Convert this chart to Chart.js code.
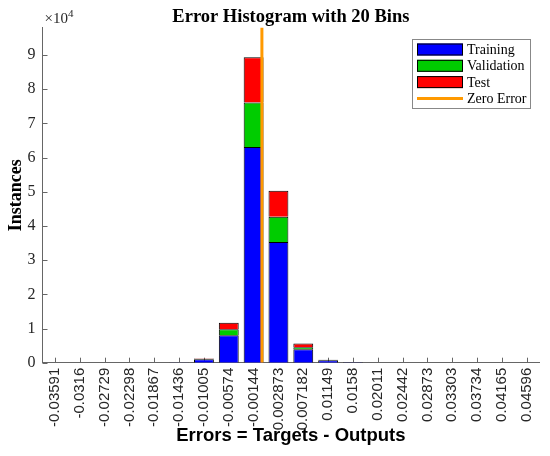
<!DOCTYPE html>
<html>
<head>
<meta charset="utf-8">
<script src="https://cdn.jsdelivr.net/npm/chart.js@4.4.1/dist/chart.umd.min.js"></script>
<style>
  body { margin: 0; background: #fff; }
</style>
</head>
<body>
<canvas id="err_hist" width="550" height="456"></canvas>
<script>
// bin centres (x tick labels)
const bins = ['-0.03591', '-0.0316', '-0.02729', '-0.02298', '-0.01867', '-0.01436', '-0.01005',
  '-0.00574', '-0.00144', '0.002873', '0.007182', '0.01149', '0.0158', '0.02011', '0.02442',
  '0.02873', '0.03303', '0.03734', '0.04165', '0.04596'];
const training   = [0, 0, 0, 0, 0, 50, 1000, 8000, 63100, 35300, 3900, 750, 150, 0, 0, 0, 0, 0, 0, 0];
const validation = [0, 0, 0, 0, 0, 5, 100, 1800, 13000, 7400, 650, 50, 10, 0, 0, 0, 0, 0, 0, 0];
const test       = [0, 0, 0, 0, 0, 5, 100, 1900, 13200, 7600, 1100, 50, 10, 0, 0, 0, 0, 0, 0, 0];
const yTicks = [0, 1, 2, 3, 4, 5, 6, 7, 8, 9];   // x 10^4
const yMax = 98000;
const zeroError = 0;

const centres = bins.map(Number);
const binWidth = (centres[centres.length - 1] - centres[0]) / (centres.length - 1);

const serif = "'Liberation Serif', 'Times New Roman', serif";
const sans = "'Liberation Sans', Arial, sans-serif";
const axisGrey = '#666';

// inward tick marks, like matlab
const tickMarks = {
  id: 'tickMarks',
  beforeDatasetsDraw(chart) {
    const ctx = chart.ctx;
    const xs = chart.scales.x, ys = chart.scales.y;
    ctx.save();
    ctx.strokeStyle = axisGrey;
    ctx.lineWidth = 1;
    ctx.beginPath();
    xs.ticks.forEach((t, i) => {
      const px = Math.round(xs.getPixelForTick(i)) + 0.5;
      ctx.moveTo(px, ys.bottom);
      ctx.lineTo(px, ys.bottom - 5);
    });
    ys.ticks.forEach((t, i) => {
      const py = Math.round(ys.getPixelForTick(i)) + 0.5;
      ctx.moveTo(xs.left, py);
      ctx.lineTo(xs.left + 5, py);
    });
    ctx.stroke();
    ctx.restore();
  }
};

// title over the axes, exponent label, legend box
const extras = {
  id: 'extras',
  afterDraw(chart) {
    const ctx = chart.ctx;
    const area = chart.chartArea;
    ctx.save();
    ctx.fillStyle = '#000';
    ctx.textAlign = 'center';
    ctx.textBaseline = 'alphabetic';
    ctx.font = 'bold 18.5px ' + serif;
    ctx.fillText('Error Histogram with 20 Bins', (area.left + area.right) / 2, 22);

    ctx.textAlign = 'left';
    ctx.fillStyle = '#262626';
    ctx.font = '15px ' + serif;
    ctx.fillText('\u00d710', area.left + 2, 23);
    const w = ctx.measureText('\u00d710').width;
    ctx.font = '11px ' + serif;
    ctx.fillText('4', area.left + 2 + w, 17);

    // legend
    const lx = 412, ly = 39, lw = 118, lh = 69;
    ctx.fillStyle = '#fff';
    ctx.fillRect(lx, ly, lw, lh);
    ctx.strokeStyle = '#888';
    ctx.lineWidth = 1;
    ctx.strokeRect(lx + 0.5, ly + 0.5, lw, lh);
    ctx.font = '14px ' + serif;
    ctx.textBaseline = 'middle';
    chart.data.datasets.forEach((ds, i) => {
      const cy = ly + 10.5 + i * 16.3;
      if (ds.type === 'line') {
        ctx.strokeStyle = ds.borderColor;
        ctx.lineWidth = 3;
        ctx.beginPath();
        ctx.moveTo(lx + 5, cy);
        ctx.lineTo(lx + 51, cy);
        ctx.stroke();
      } else {
        ctx.fillStyle = ds.backgroundColor;
        ctx.fillRect(lx + 5, cy - 6, 46, 12);
        ctx.strokeStyle = '#000';
        ctx.lineWidth = 1;
        ctx.strokeRect(lx + 5.5, cy - 5.5, 45, 11);
      }
      ctx.fillStyle = '#000';
      ctx.fillText(ds.label, lx + 55, cy + 1);
    });
    ctx.restore();
  }
};

const barStyle = {
  type: 'bar', borderColor: '#000', borderWidth: 1, borderSkipped: 'start',
  barPercentage: 0.8, categoryPercentage: 1.0, grouped: false, stack: 'bins', order: 1
};

new Chart(document.getElementById('err_hist'), {
  data: {
    labels: bins,
    datasets: [
      { ...barStyle, label: 'Training', data: training, backgroundColor: '#0000ff' },
      { ...barStyle, label: 'Validation', data: validation, backgroundColor: '#00cc00' },
      { ...barStyle, label: 'Test', data: test, backgroundColor: '#ff0000' },
      { type: 'line', label: 'Zero Error', xAxisID: 'x2',
        data: [{ x: zeroError, y: 0 }, { x: zeroError, y: yMax }],
        borderColor: '#ff9900', borderWidth: 3, pointRadius: 0, order: 0 }
    ]
  },
  options: {
    responsive: false,
    animation: false,
    layout: { padding: { left: 0, right: 7.5, top: 27.6, bottom: 0 } },
    plugins: {
      legend: { display: false },
      tooltip: { enabled: false },
      title: { display: false }
    },
    scales: {
      x: {
        type: 'category',
        stacked: true,
        offset: true,
        grid: { display: false, drawTicks: false },
        border: { display: true, color: axisGrey, width: 1 },
        ticks: {
          autoSkip: false, minRotation: 90, maxRotation: 90, padding: 5,
          color: '#262626', font: { family: sans, size: 15 }
        },
        title: {
          display: true, text: 'Errors = Targets - Outputs', color: '#000',
          font: { family: sans, size: 18.5, weight: 'bold' },
          padding: { top: 0, bottom: 9 }
        },
        afterFit(scale) { scale.height = 93.3; }
      },
      x2: {
        type: 'linear',
        display: false,
        min: centres[0] - binWidth / 2,
        max: centres[centres.length - 1] + binWidth / 2
      },
      y: {
        stacked: true,
        min: 0,
        max: yMax,
        grid: { display: false, drawTicks: false },
        border: { display: true, color: axisGrey, width: 1 },
        afterBuildTicks(scale) { scale.ticks = yTicks.map(v => ({ value: v * 10000 })); },
        ticks: {
          padding: 7, color: '#262626',
          font: { family: serif, size: 16 },
          callback: v => String(v / 10000)
        },
        title: {
          display: true, text: 'Instances', color: '#000',
          font: { family: serif, size: 18, weight: 'bold' },
          padding: { top: 6, bottom: 0 }
        },
        afterFit(scale) { scale.width = 42.5; }
      }
    }
  },
  plugins: [tickMarks, extras]
});
</script>
</body>
</html>
